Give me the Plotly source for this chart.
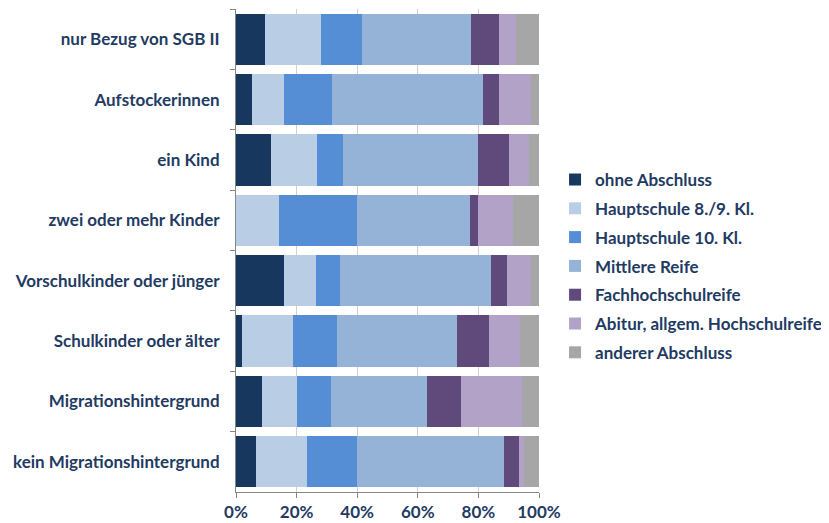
import plotly.graph_objects as go

categories = ["nur Bezug von SGB II", "Aufstockerinnen", "ein Kind", "zwei oder mehr Kinder",
              "Vorschulkinder oder jünger", "Schulkinder oder älter",
              "Migrationshintergrund", "kein Migrationshintergrund"]

series_names = ["ohne Abschluss", "Hauptschule 8./9. Kl.", "Hauptschule 10. Kl.", "Mittlere Reife",
                "Fachhochschulreife", "Abitur, allgem. Hochschulreife", "anderer Abschluss"]

ohne_abschluss = [9.5, 5.3, 11.6, 0.0, 15.9, 2.1, 8.6, 6.7]
hauptschule_89 = [18.7, 10.5, 15.1, 14.3, 10.5, 16.7, 11.5, 16.7]
hauptschule_10 = [13.3, 15.8, 8.5, 25.7, 7.9, 14.5, 11.4, 16.6]
mittlere_reife = [35.9, 49.9, 44.7, 37.1, 50.0, 39.7, 31.5, 48.4]
fachhochschulreife = [9.3, 5.2, 10.1, 2.8, 5.2, 10.4, 11.4, 5.0]
abitur = [5.7, 10.7, 6.7, 11.6, 7.9, 10.4, 19.9, 1.8]
anderer = [7.6, 2.6, 3.3, 8.5, 2.6, 6.2, 5.7, 4.8]

series_values = [ohne_abschluss, hauptschule_89, hauptschule_10, mittlere_reife,
                 fachhochschulreife, abitur, anderer]
colors = ["#17375E", "#B9CDE5", "#558ED5", "#95B3D7", "#604A7B", "#B3A2C7", "#A6A6A6"]

text_color = "#1F3B63"
font_family = "Lato"
fsize = 17

fig = go.Figure()
for i, (name, vals, col) in enumerate(zip(series_names, series_values, colors)):
    fig.add_trace(go.Bar(
        y=categories, x=vals, name=name, orientation="h",
        marker=dict(color=col, line=dict(width=0)),
        legendgroup=f"g{i}",
    ))

fig.update_layout(
    barmode="stack",
    bargap=0.15,
    width=821, height=515,
    margin=dict(l=228, r=290, t=1, b=31, autoexpand=False),
    paper_bgcolor="white", plot_bgcolor="white",
    font=dict(family=font_family, size=fsize, color=text_color, weight=700),
    showlegend=True,
    legend=dict(
        x=1.053, xanchor="left", y=0.468, yanchor="middle",
        traceorder="grouped", tracegroupgap=3.7,
        font=dict(family=font_family, size=fsize, color=text_color, weight=700),
        bgcolor="rgba(0,0,0,0)",
    ),
)
fig.update_xaxes(
    range=[0, 100], dtick=20, ticksuffix="%",
    showgrid=True, gridcolor="#D0D0D0", gridwidth=1,
    showline=True, linecolor="#868686", linewidth=1,
    ticks="outside", ticklen=5, tickcolor="#868686",
    zeroline=False, mirror=False, automargin=False,
    tickfont=dict(family=font_family, size=fsize, color=text_color, weight=700),
)
fig.update_yaxes(
    autorange="reversed", type="category",
    showline=True, linecolor="#868686", linewidth=1,
    ticks="outside", ticklen=5, tickcolor="#868686", tickson="boundaries",
    showgrid=False, ticklabelstandoff=12, automargin=False,
    tickfont=dict(family=font_family, size=fsize, color=text_color, weight=700),
)

fig.write_html("out.html")
